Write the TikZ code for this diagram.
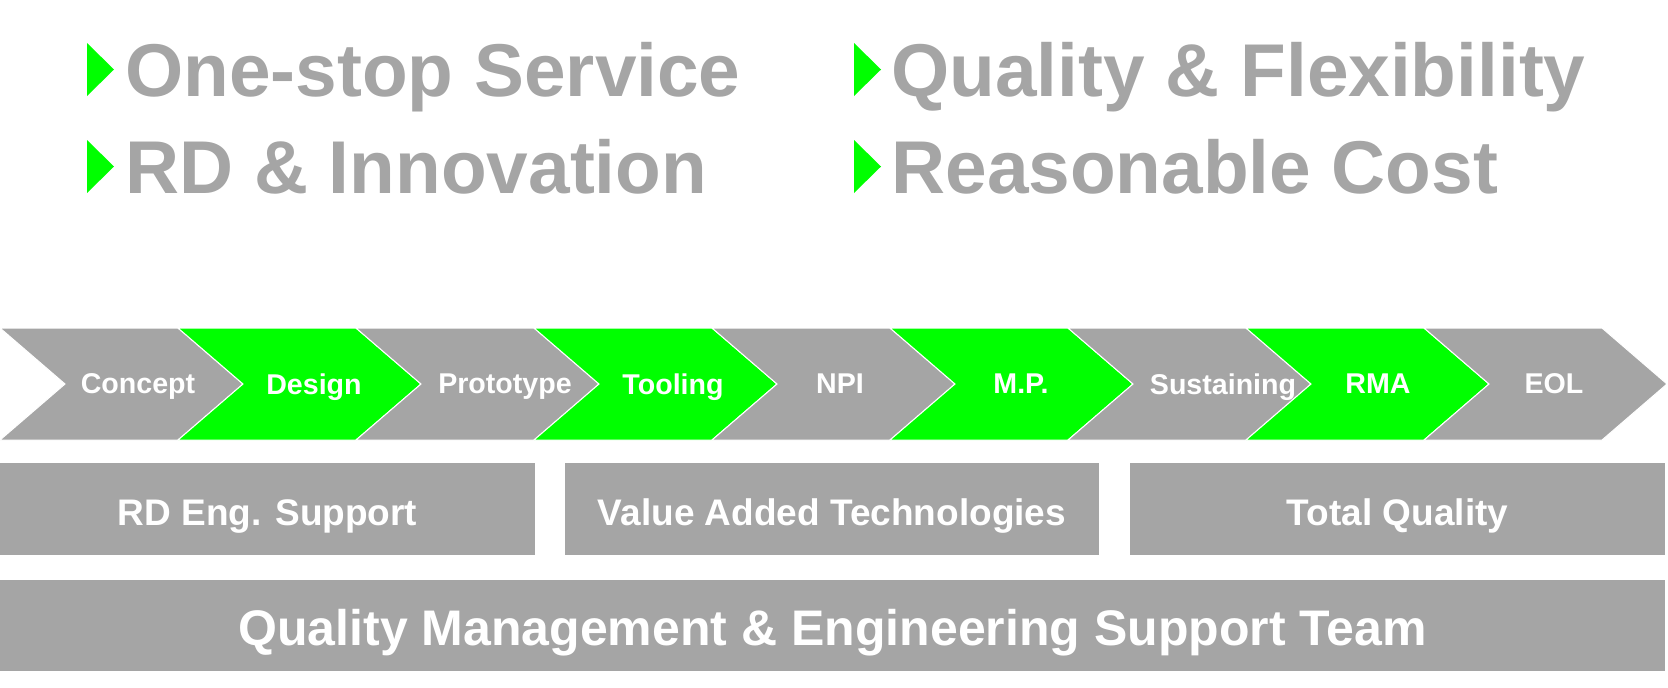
\documentclass[tikz,border=0pt]{standalone}
\usepackage{fontspec}
\setmainfont{Liberation Sans}

\definecolor{midgray}{HTML}{A5A5A5}
\definecolor{brightgreen}{HTML}{00FF00}

\tikzset{
  headline/.style={anchor=base west, text=midgray, inner sep=0pt,
    font=\fontsize{37.4}{40}\selectfont\bfseries},
  bullet/.style={fill=brightgreen},
  steplabel/.style={text=white, inner sep=0pt, text depth=0pt,
    font=\fontsize{14.3}{16}\selectfont\bfseries},
  bar/.style={fill=midgray, text=white, inner sep=0pt, outer sep=0pt,
    text depth=0pt, text height=16.5pt, minimum height=46pt,
    font=\fontsize{18.5}{20}\selectfont\bfseries},
  widebar/.style={bar, minimum height=45.75pt, text height=20.4pt,
    font=\fontsize{25}{28}\selectfont\bfseries}
}

\begin{document}
\begin{tikzpicture}[x=0.5pt,y=-0.5pt]
  \useasboundingbox (0,0) rectangle (1668,687);

  % headlines
  \foreach \x/\y in {87/43, 87/140, 854/43, 854/140}
    \fill[bullet] (\x,\y) -- ++(27,26.5) -- ++(-27,26.5) -- cycle;

  \node[headline] (service) at (125,96) {One-stop Service};
  \node[headline] (innov) at (125,193) {RD \& Innovation};
  \node[headline] (flex) at (891,96) {Quality \& Flexibility};
  \node[headline] (cost) at (891,193) {Reasonable Cost};

  % process chevrons
  \foreach \lbl/\cx [count=\i from 0] in {Concept/138, Design/314,
      Prototype/505, Tooling/673, NPI/840, M.P./1021,
      Sustaining/1223, RMA/1378, EOL/1554}{
    \ifodd\i \def\fc{brightgreen}\else \def\fc{midgray}\fi
    \filldraw[fill=\fc, draw=white, line width=0.5pt]
      (\i*178,328) -- ++(178,0) -- ++(65,56) -- ++(-65,56)
      -- ++(-178,0) -- ++(65,-56) -- cycle;
    \node[steplabel] (step\i) at (\cx,384) {\lbl};
  }

  % support bars
  \node[bar, minimum width=267.5pt] (rdeng) at (267.5,509) {RD Eng. Support};
  \node[bar, minimum width=267pt] (value) at (832,509) {Value Added Technologies};
  \node[bar, minimum width=267.5pt] (total) at (1397.5,509) {Total Quality};

  \node[widebar, minimum width=832.5pt] (team) at (832.5,625.5)
    {Quality Management \& Engineering Support Team};

\end{tikzpicture}
\end{document}
